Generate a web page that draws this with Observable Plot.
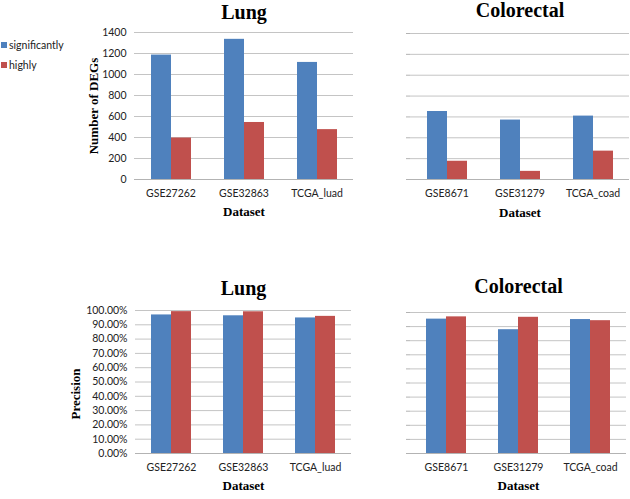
<!DOCTYPE html>
<html>
<head>
<meta charset="utf-8">
<script src="https://cdn.jsdelivr.net/npm/d3@7"></script>
<script src="https://cdn.jsdelivr.net/npm/@observablehq/plot@0.6"></script>
<style>
  body { margin: 0; background: #fff; }
  #root { position: relative; width: 630px; height: 499px; overflow: hidden; background: #fff; }
  .panel { position: absolute; }
  .legend { position: absolute; left: 0; top: 0; font: 10.5px Lato, sans-serif; color: #222; }
  .legend .item { position: absolute; left: 1px; white-space: nowrap; height: 12px; line-height: 12px; }
  .legend .sw { display: inline-block; width: 6px; height: 6px; margin-right: 2px; vertical-align: 1px; }
</style>
</head>
<body>
<div id="root"></div>
<script>
// ---- data ----
const series = ["significantly", "highly"];
const seriesColors = ["#4F81BD", "#C0504D"];

const lungSets = ["GSE27262", "GSE32863", "TCGA_luad"];
const crcSets = ["GSE8671", "GSE31279", "TCGA_coad"];

const lungDegSig = [1185, 1335, 1115];
const lungDegHigh = [395, 543, 475];
const crcDegSig = [652, 570, 608];
const crcDegHigh = [175, 78, 272];

const lungPrecSig = [0.969, 0.963, 0.948];
const lungPrecHigh = [0.992, 0.991, 0.959];
const crcPrecSig = [0.953, 0.878, 0.950];
const crcPrecHigh = [0.969, 0.966, 0.942];

const degTicks = [0, 200, 400, 600, 800, 1000, 1200, 1400];
const precTicks = [0, 0.1, 0.2, 0.3, 0.4, 0.5, 0.6, 0.7, 0.8, 0.9, 1.0];

const titles = ["Lung", "Colorectal"];
const yLabels = ["Number of DEGs", "Precision"];
const xLabel = "Dataset";

// ---- drawing ----
const root = document.getElementById("root");
const serif = "'Liberation Serif', 'Times New Roman', serif";

function panel(o) {
  const data = o.sets.flatMap((s, i) => [
    {set: s, series: series[0], value: o.sig[i]},
    {set: s, series: series[1], value: o.high[i]}
  ]);
  const marks = [
    Plot.gridY(o.ticks, {stroke: "#c4c4c4", strokeOpacity: 1}),
    Plot.barY(data, {fx: "set", x: "series", y: "value", fill: "series"}),
    Plot.ruleY([0], {stroke: "#b3b3b3"}),
    Plot.axisY(o.ticks, {
      anchor: "left", line: true, label: null,
      tickSize: o.tickLabels ? 0 : 4, tickPadding: 8,
      tickFormat: o.tickLabels ? o.fmt : () => "",
      stroke: "#b3b3b3", fill: "#222", fontSize: 10.5
    }),
    Plot.axisFx({anchor: "bottom", tickSize: 0, tickPadding: 10, label: null, fill: "#222", fontSize: 10.5}),
    Plot.text([o.title], {
      fx: [o.sets[1]], text: d => d, frameAnchor: "top", lineAnchor: "middle", textAnchor: "middle",
      dy: o.titleDy, fontFamily: serif, fontWeight: "bold", fontSize: 20, fill: "#000"
    }),
    Plot.text([xLabel], {
      fx: [o.sets[1]], text: d => d, frameAnchor: "bottom", lineAnchor: "middle", textAnchor: "middle",
      dy: o.xLabelDy, fontFamily: serif, fontWeight: "bold", fontSize: 13, fill: "#000"
    })
  ];
  if (o.yLabel) {
    marks.push(Plot.text([o.yLabel], {
      fx: [o.sets[0]], text: d => d, frameAnchor: "left", lineAnchor: "middle", textAnchor: "middle",
      rotate: -90, dx: o.yLabelDx, dy: o.yLabelDy,
      fontFamily: serif, fontWeight: "bold", fontSize: 13, fill: "#000"
    }));
  }
  const chart = Plot.plot({
    width: o.w, height: o.h,
    marginLeft: o.ml, marginRight: o.mr, marginTop: o.mt, marginBottom: o.mb,
    style: {background: "transparent", fontFamily: "Lato, sans-serif", fontSize: "10.5px", color: "#222", overflow: "visible"},
    fx: {domain: o.sets, padding: 0, label: null},
    x: {domain: series, axis: null, paddingInner: 0, paddingOuter: o.padOuter},
    y: {domain: [o.ticks[0], o.ticks[o.ticks.length - 1]], axis: null},
    color: {domain: series, range: seriesColors},
    marks
  });
  const div = document.createElement("div");
  div.className = "panel";
  div.style.left = o.left + "px";
  div.style.top = o.top + "px";
  div.appendChild(chart);
  root.appendChild(div);
}

const fmtInt = d3.format("d");
const fmtPct = d3.format(".2%");

panel({left: 0, top: 0, w: 360, h: 250, ml: 134, mr: 7, mt: 32, mb: 71,
  sets: lungSets, sig: lungDegSig, high: lungDegHigh, ticks: degTicks, fmt: fmtInt,
  tickLabels: true, padOuter: 0.78, title: titles[0], titleDy: -19.5, xLabelDy: 32,
  yLabel: yLabels[0], yLabelDx: -41, yLabelDy: 0});

panel({left: 360, top: 0, w: 270, h: 250, ml: 49, mr: 0, mt: 33, mb: 71,
  sets: crcSets, sig: crcDegSig, high: crcDegHigh, ticks: degTicks, fmt: fmtInt,
  tickLabels: false, padOuter: 0.78, title: titles[1], titleDy: -22.5, xLabelDy: 33});

panel({left: 0, top: 250, w: 360, h: 249, ml: 134, mr: 9, mt: 60, mb: 46,
  sets: lungSets, sig: lungPrecSig, high: lungPrecHigh, ticks: precTicks, fmt: fmtPct,
  tickLabels: true, padOuter: 0.76, title: titles[0], titleDy: -22, xLabelDy: 32,
  yLabel: yLabels[1], yLabelDx: -60, yLabelDy: 12});

panel({left: 360, top: 250, w: 270, h: 249, ml: 50, mr: 4, mt: 62, mb: 46,
  sets: crcSets, sig: crcPrecSig, high: crcPrecHigh, ticks: precTicks, fmt: fmtPct,
  tickLabels: false, padOuter: 0.75, title: titles[1], titleDy: -26, xLabelDy: 32});

// legend
const legend = document.createElement("div");
legend.className = "legend";
const legendTops = [39, 58.5];
series.forEach((s, i) => {
  const item = document.createElement("div");
  item.className = "item";
  item.style.top = legendTops[i] + "px";
  const sw = document.createElement("span");
  sw.className = "sw";
  sw.style.background = seriesColors[i];
  item.appendChild(sw);
  item.appendChild(document.createTextNode(s));
  legend.appendChild(item);
});
root.appendChild(legend);
</script>
</body>
</html>
